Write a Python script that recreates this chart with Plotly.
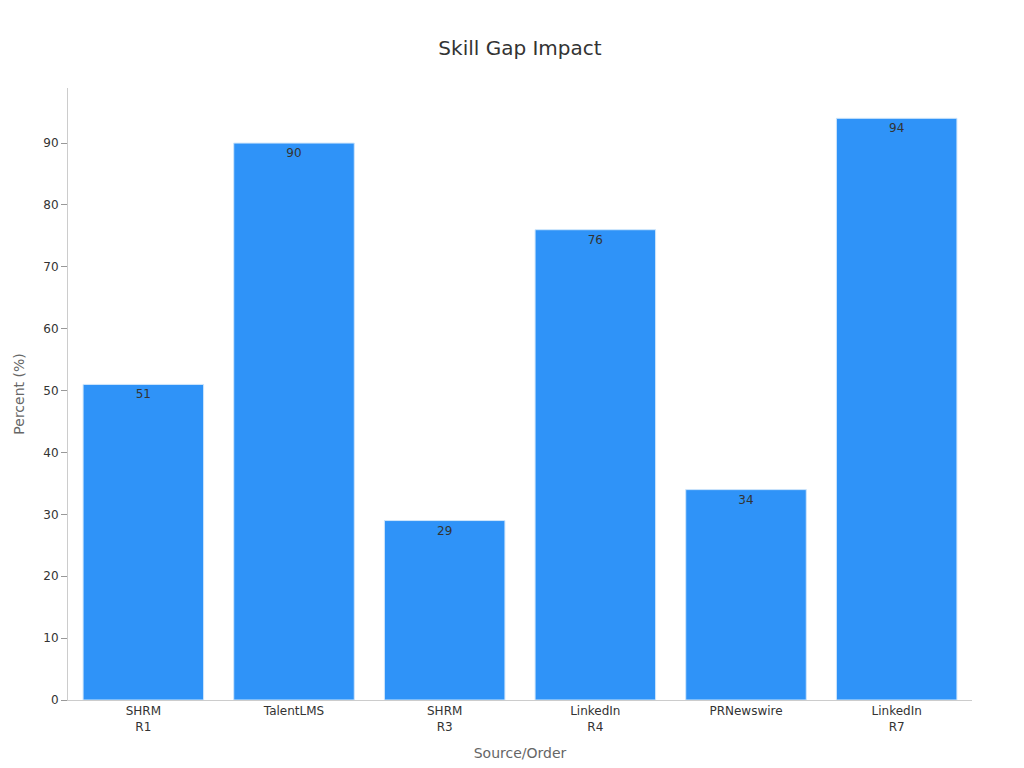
import plotly.graph_objects as go

categories = ["SHRM<br>R1", "TalentLMS", "SHRM<br>R3", "LinkedIn<br>R4", "PRNewswire", "LinkedIn<br>R7"]
values = [51, 90, 29, 76, 34, 94]

fig = go.Figure(go.Bar(
    x=categories, y=values,
    text=values, textposition="inside", insidetextanchor="end",
    textfont=dict(color="#333333", size=12),
    marker=dict(color="#2f93f8", line=dict(color="#cfe6fb", width=1)),
))

fig.update_layout(
    width=1024, height=768,
    title=dict(text="Skill Gap Impact", x=0.5, y=0.957, font=dict(size=20, color="#333333")),
    font=dict(family="DejaVu Sans, sans-serif", size=12, color="#333333"),
    plot_bgcolor="white", paper_bgcolor="white",
    margin=dict(l=60, r=60, t=80, b=76),
    bargap=0.2,
    showlegend=False,
)
fig.update_xaxes(
    title=dict(text="Source/Order", font=dict(size=14, color="#666666")),
    showline=True, linecolor="#cccccc", showgrid=False,
)
fig.update_yaxes(
    title=dict(text="Percent (%)", font=dict(size=14, color="#666666")),
    showline=True, linecolor="#cccccc", showgrid=False,
    ticks="outside", ticklen=6, tickcolor="#999999", dtick=10,
    range=[0, 98.9], zeroline=False,
)

fig.write_html("out.html")
